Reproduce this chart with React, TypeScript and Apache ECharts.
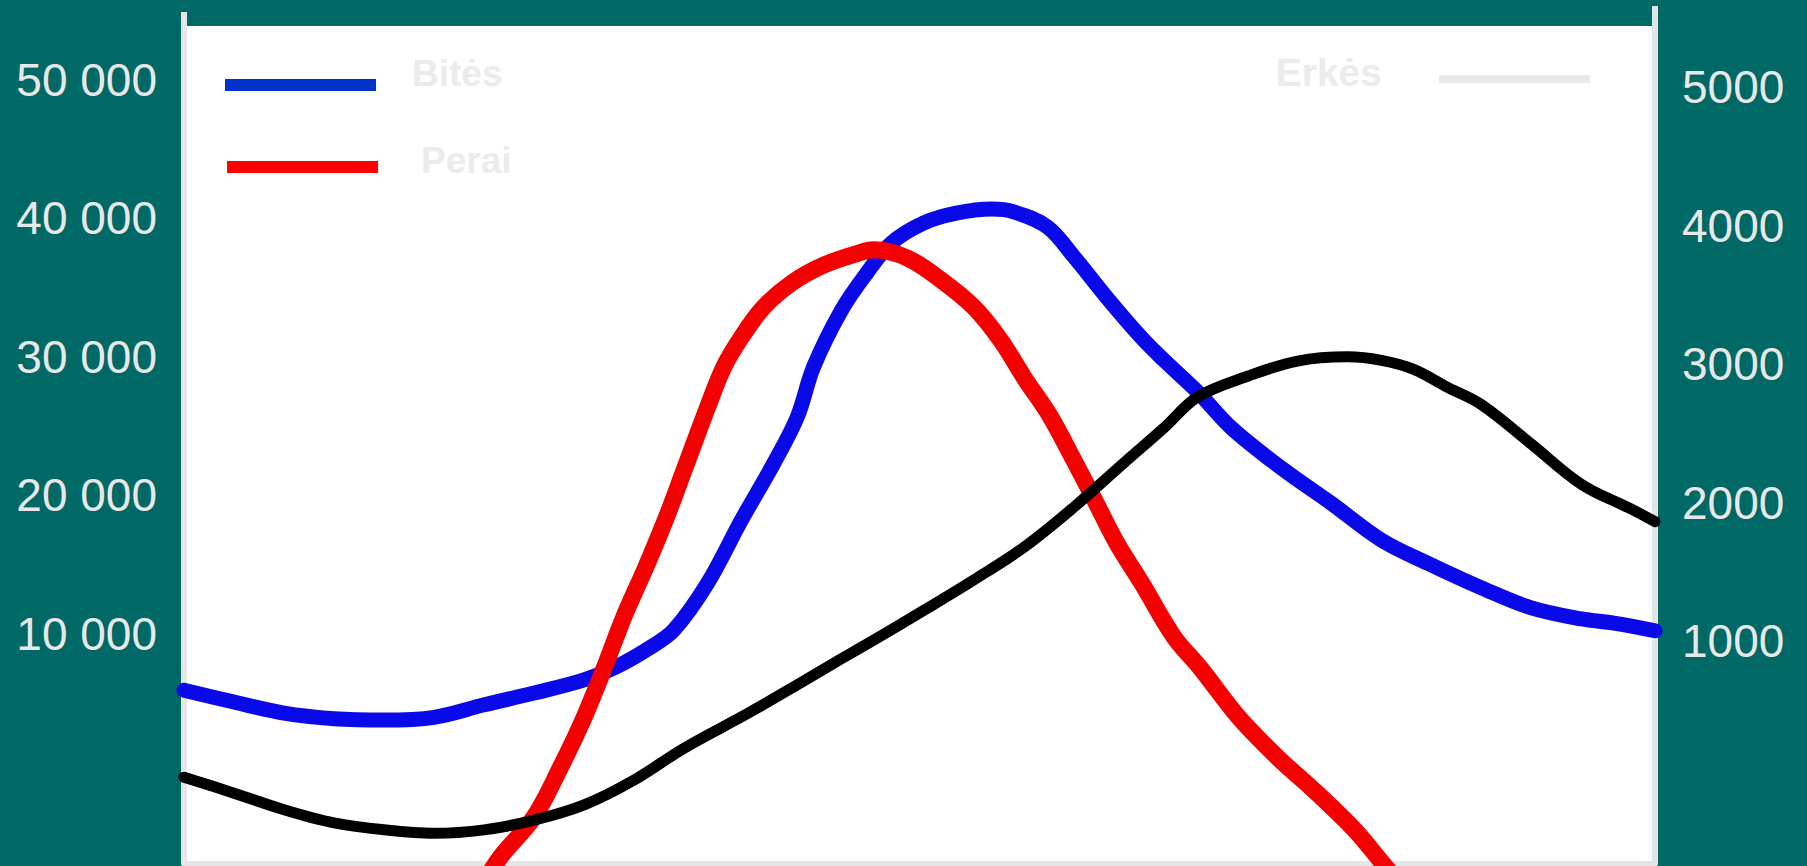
import React, { useEffect, useRef } from "react";
import * as echarts from "echarts";

// ---- data (x = position along the season, 0..100) ----
const xBites = [0, 3.4, 6.8, 10.2, 13.6, 17.0, 20.4, 23.8, 27.2, 29.4, 31.7, 33.3, 35.6, 37.9, 40.1, 41.7, 42.8, 44.7, 46.4, 48.1, 50.3, 52.5, 54.9, 56.4, 58.7, 60.5, 62.7, 65.1, 66.6, 68.9, 71.2, 74.6, 78.0, 81.4, 84.8, 88.2, 91.6, 95.0, 97.2, 100];
const bites = [5900, 5050, 4250, 3850, 3750, 3950, 4850, 5700, 6650, 7600, 9000, 10250, 13650, 18200, 22300, 25650, 29250, 33350, 36000, 38200, 39650, 40350, 40650, 40450, 39350, 37200, 34300, 31350, 29750, 27450, 24850, 21950, 19400, 16750, 14950, 13300, 11850, 11050, 10750, 10200];

const xPerai = [20.1, 21.5, 23.8, 25.6, 27.2, 28.6, 29.9, 31.4, 32.8, 34.0, 35.6, 36.7, 37.9, 39.4, 41.3, 43.5, 45.8, 46.9, 49.2, 51.5, 53.7, 55.5, 57.1, 58.9, 60.5, 61.9, 63.4, 65.1, 67.3, 69.1, 71.7, 74.3, 77.0, 79.6, 81.3, 82.7];
const perai = [-8500, -6150, -3250, 350, 3950, 7600, 11200, 14800, 18400, 21800, 26350, 29250, 31400, 33550, 35300, 36600, 37450, 37700, 37100, 35500, 33550, 31200, 28500, 25650, 22500, 19650, 16550, 13650, 9750, 7500, 3950, 1100, -1500, -4200, -6350, -8150];

const xErkes = [0, 3.4, 6.8, 10.2, 13.6, 17.0, 20.4, 23.8, 27.2, 30.6, 34.0, 38.4, 41.9, 44.2, 46.9, 50.3, 53.7, 57.1, 60.5, 63.9, 66.6, 68.9, 72.3, 75.7, 79.1, 81.4, 83.6, 85.9, 88.2, 91.6, 95.0, 98.4, 100];
const erkes = [20, -95, -215, -310, -360, -385, -360, -290, -180, 0, 230, 485, 700, 845, 1010, 1225, 1445, 1680, 1970, 2290, 2540, 2765, 2915, 3025, 3055, 3030, 2965, 2835, 2710, 2425, 2135, 1955, 1865];

const leftTicks = [10000, 20000, 30000, 40000, 50000];
const leftTickLabels = ["10 000", "20 000", "30 000", "40 000", "50 000"];
const rightTicks = [1000, 2000, 3000, 4000, 5000];
const rightTickLabels = ["1000", "2000", "3000", "4000", "5000"];

const seriesNames = ["Bitės", "Perai", "Erkės"];

const zip = (xs: number[], ys: number[]) => xs.map((x, i) => [x, ys[i]]);

const BG = "#006865";
const AXIS_GRAY = "#e6e6e6";
const LABEL = "#e8e8e8";
const LEGEND_TEXT = "#ebebeb";
const FONT = "'Liberation Sans', Arial, sans-serif";

const legendText = (size: number, padding: number[]) => ({
  color: LEGEND_TEXT,
  fontSize: size,
  lineHeight: size,
  fontWeight: "bold",
  fontFamily: FONT,
  padding,
  rich: {
    t: {
      color: LEGEND_TEXT,
      fontSize: size,
      lineHeight: size,
      fontWeight: "bold",
      fontFamily: FONT,
    },
  },
});

export default function App() {
  const ref = useRef<HTMLDivElement>(null);

  useEffect(() => {
    if (!ref.current) return;
    const chart = echarts.init(ref.current, null, { renderer: "svg" });

    const option: any = {
      animation: false,
      backgroundColor: BG,
      grid: {
        left: 184,
        right: 152,
        top: 26,
        bottom: 2.5,
        show: true,
        backgroundColor: "#ffffff",
        borderWidth: 0,
      },
      xAxis: {
        type: "value",
        min: 0,
        max: 100,
        z: 3,
        axisLine: { show: true, onZero: false, lineStyle: { color: AXIS_GRAY, width: 5 } },
        axisTick: { show: false },
        axisLabel: { show: false },
        splitLine: { show: false },
      },
      yAxis: [
        {
          type: "value",
          position: "left",
          min: -6606,
          max: 53863,
          z: 3,
          axisLine: { show: true, onZero: false, lineStyle: { color: AXIS_GRAY, width: 6 } },
          axisTick: { show: false },
          splitLine: { show: false },
          axisLabel: {
            customValues: leftTicks,
            formatter: (v: number) => leftTickLabels[leftTicks.indexOf(v)] ?? "",
            color: LABEL,
            fontSize: 46,
            fontFamily: FONT,
            margin: 27,
          },
        },
        {
          type: "value",
          position: "right",
          min: -603,
          max: 5444,
          z: 3,
          axisLine: { show: true, onZero: false, lineStyle: { color: "#dfe6e6", width: 6 } },
          axisTick: { show: false },
          splitLine: { show: false },
          axisLabel: {
            customValues: rightTicks,
            formatter: (v: number) => rightTickLabels[rightTicks.indexOf(v)] ?? "",
            color: LABEL,
            fontSize: 46,
            fontFamily: FONT,
            margin: 27,
          },
        },
      ],
      legend: [
        {
          data: [{ name: seriesNames[0], itemStyle: { color: "#0033cc" } }],
          formatter: (n: string) => `{t|${n}}`,
          left: 225,
          top: 55,
          padding: 0,
          icon: "rect",
          itemWidth: 151,
          itemHeight: 12,
          selectedMode: false,
          itemStyle: { color: "#0033cc" },
          textStyle: legendText(37, [0, 0, 23, 31]),
        },
        {
          data: [{ name: seriesNames[1], itemStyle: { color: "#ff0000" } }],
          formatter: (n: string) => `{t|${n}}`,
          left: 227,
          top: 142,
          padding: 0,
          icon: "rect",
          itemWidth: 151,
          itemHeight: 12,
          selectedMode: false,
          itemStyle: { color: "#ff0000" },
          textStyle: legendText(37, [0, 0, 13, 38]),
        },
        {
          data: [{ name: seriesNames[2], itemStyle: { color: "#e9e9e9" } }],
          formatter: (n: string) => `{t|${n}}`,
          right: 217,
          top: 52.5,
          padding: 0,
          align: "right",
          icon: "rect",
          itemWidth: 151,
          itemHeight: 8,
          selectedMode: false,
          itemStyle: { color: "#e9e9e9" },
          textStyle: legendText(39, [0, 52, 14, 0]),
        },
      ],
      graphic: [
        { type: "rect", shape: { x: 181, y: 12, width: 6, height: 14 }, style: { fill: AXIS_GRAY } },
        { type: "rect", shape: { x: 1652, y: 6, width: 6, height: 20 }, style: { fill: "#dfe6e6" } },
      ],
      series: [
        {
          name: seriesNames[0],
          type: "line",
          yAxisIndex: 0,
          data: zip(xBites, bites),
          smooth: 0.35,
          showSymbol: false,
          color: "#0a0ae8",
          lineStyle: { color: "#0a0ae8", width: 15, cap: "round", join: "round" },
        },
        {
          name: seriesNames[1],
          type: "line",
          yAxisIndex: 0,
          data: zip(xPerai, perai),
          smooth: 0.35,
          showSymbol: false,
          color: "#f50000",
          lineStyle: { color: "#f50000", width: 17, cap: "round", join: "round" },
        },
        {
          name: seriesNames[2],
          type: "line",
          yAxisIndex: 1,
          data: zip(xErkes, erkes),
          smooth: 0.35,
          showSymbol: false,
          color: "#000000",
          lineStyle: { color: "#000000", width: 11, cap: "round", join: "round" },
        },
      ],
    };

    chart.setOption(option);
    return () => chart.dispose();
  }, []);

  return (
    <div
      ref={ref}
      style={{ position: "absolute", left: 0, top: 0, width: 1807, height: 866 }}
    />
  );
}
